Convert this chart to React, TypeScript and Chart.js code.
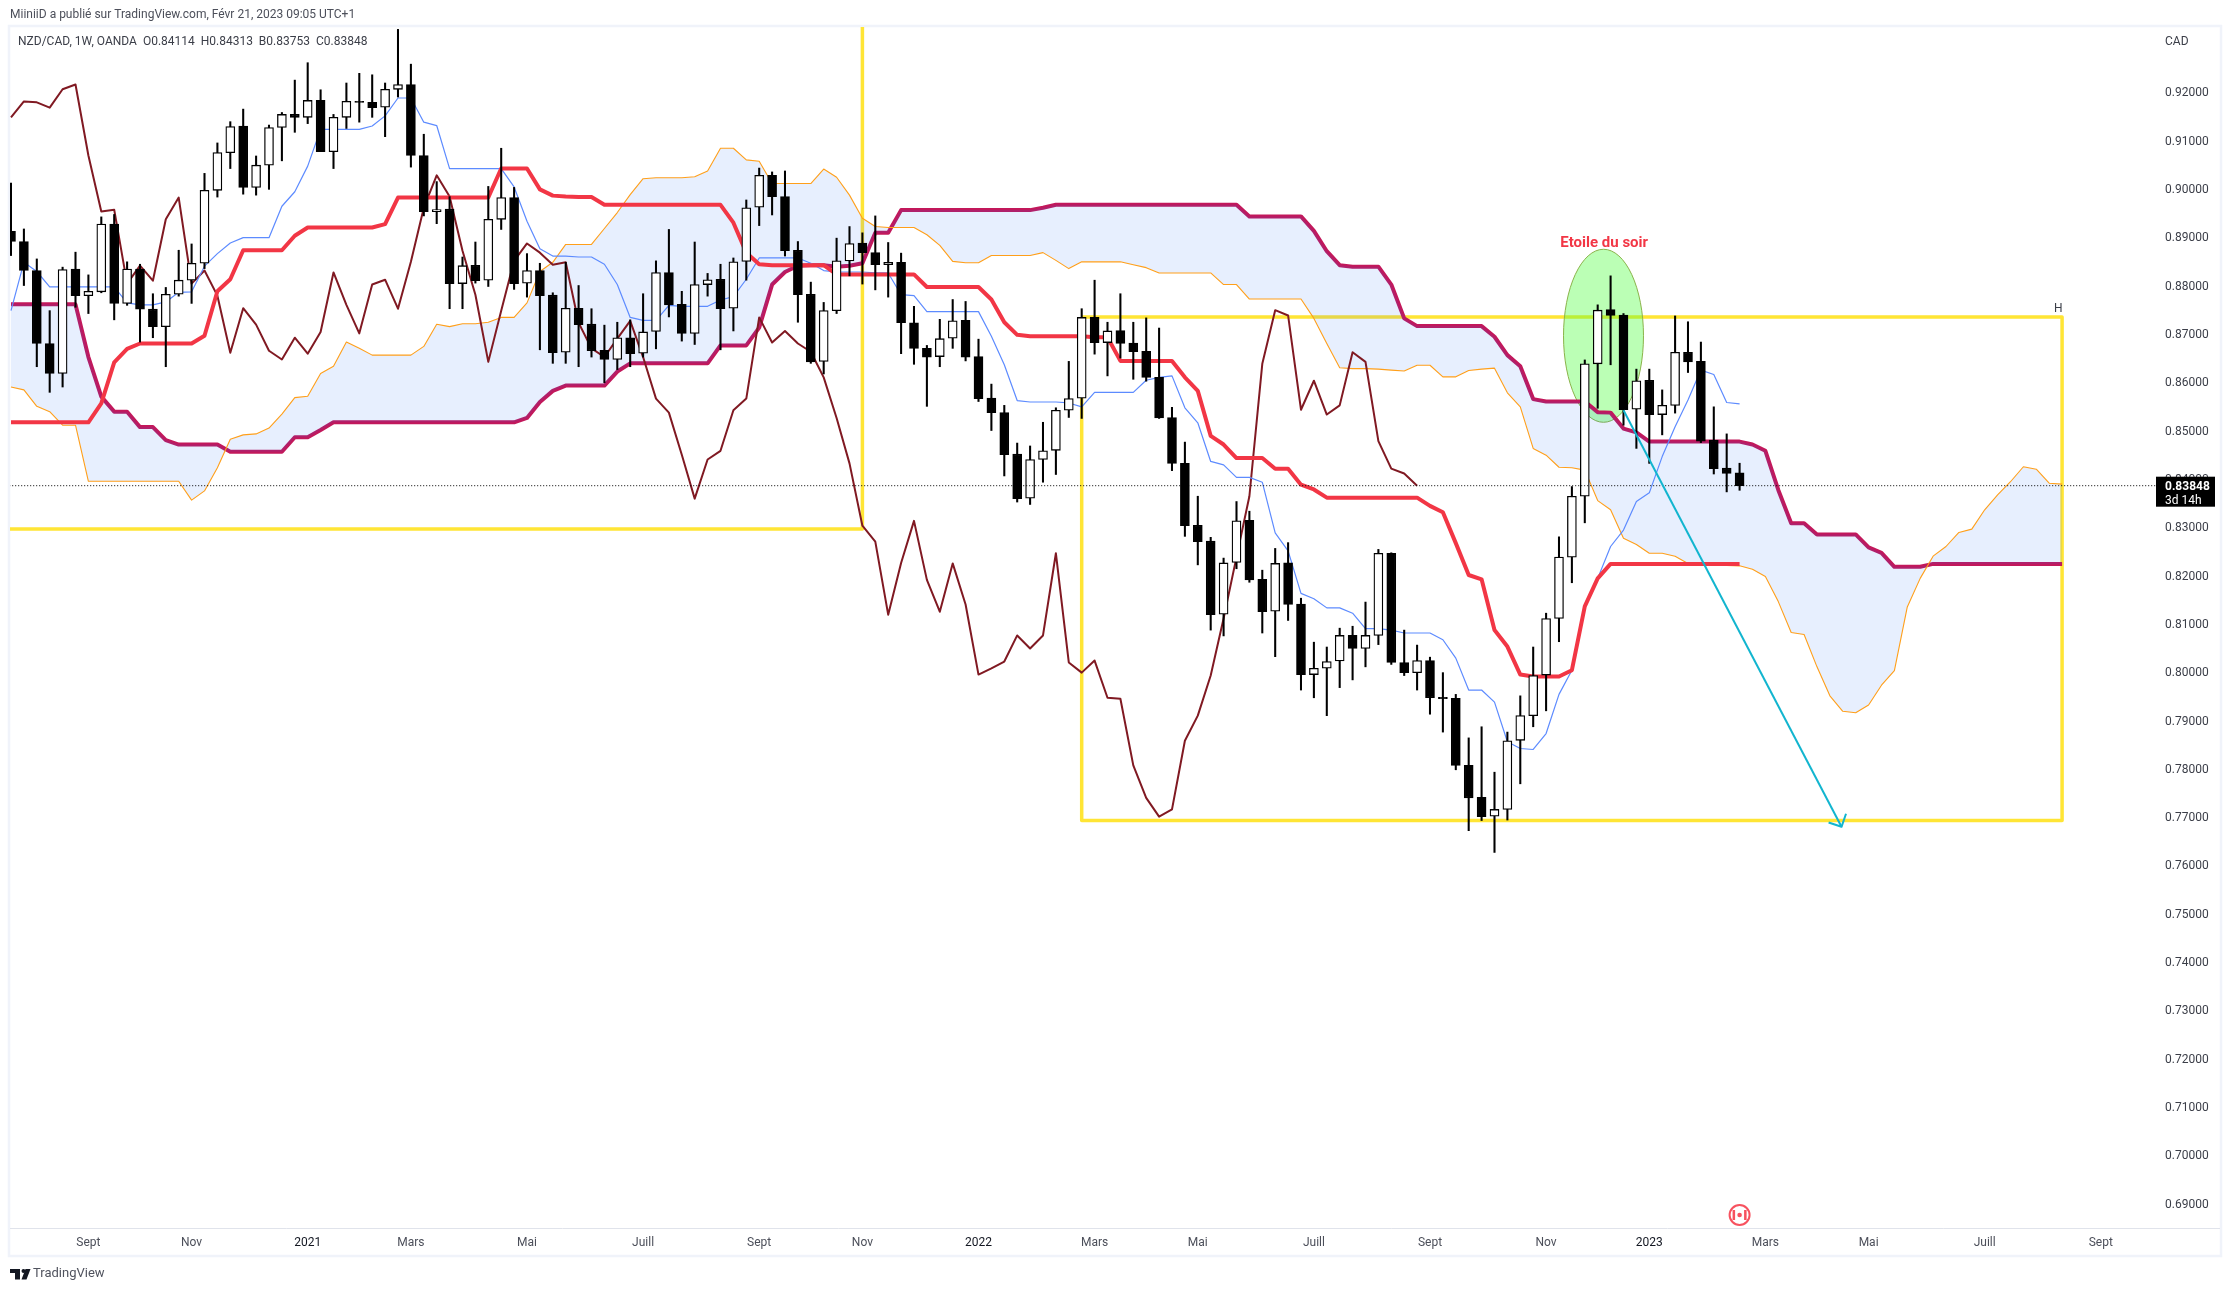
import React, { useEffect, useRef } from "react";
import { Chart, registerables } from "chart.js";

Chart.register(...registerables);

const opens = [.8911,.8890,.8830,.8679,.8617,.8833,.8778,.8786,.8926,.8762,.8833,.8750,.8714,.8781,.8810,.8845,.8996,.9074,.9129,.9002,.9048,.9126,.9153,.9147,.9182,.9076,.9147,.9180,.9178,.9168,.9205,.9215,.9068,.8952,.8957,.8803,.8841,.8810,.8936,.8981,.8804,.8830,.8779,.8661,.8752,.8719,.8665,.8646,.8691,.8659,.8704,.8826,.8760,.8700,.8801,.8812,.8752,.8849,.8961,.9027,.8983,.8872,.8781,.8642,.8747,.8850,.8887,.8867,.8842,.8847,.8722,.8669,.8652,.8690,.8727,.8652,.8566,.8536,.8450,.8359,.8439,.8458,.8541,.8566,.8733,.8681,.8706,.8680,.8663,.8609,.8526,.8431,.8303,.8270,.8119,.8226,.8313,.8191,.8125,.8225,.8140,.7994,.8007,.8022,.8075,.8048,.8075,.8245,.8019,.7998,.8023,.7947,.7945,.7806,.7740,.7701,.7715,.7858,.7909,.7993,.8110,.8237,.8363,.8637,.8749,.8738,.8543,.8603,.8532,.8551,.8661,.8642,.8479,.8421,.84114];
const highs = [.9011,.8916,.8854,.8747,.8837,.8868,.8821,.8941,.8946,.8848,.8843,.8782,.8795,.8872,.8885,.9031,.9094,.9138,.9164,.9067,.9131,.9157,.9224,.9260,.9204,.9153,.9218,.9238,.9235,.9218,.9329,.9257,.9112,.9014,.8983,.8858,.8889,.9004,.9083,.9002,.8865,.8845,.8784,.8847,.8799,.8751,.8717,.8723,.8728,.8782,.8850,.8915,.8787,.8889,.8824,.8843,.8856,.8976,.9042,.9034,.9036,.8890,.8806,.8764,.8897,.8921,.8908,.8943,.8888,.8866,.8756,.8675,.8729,.8770,.8766,.8688,.8595,.8551,.8473,.8467,.8516,.8546,.8642,.8751,.8810,.8723,.8782,.8723,.8732,.8711,.8547,.8475,.8363,.8278,.8235,.8352,.8332,.8210,.8255,.8267,.8152,.8061,.8051,.8090,.8094,.8144,.8253,.8246,.8086,.8055,.8030,.7998,.7953,.7863,.7886,.7792,.7875,.7950,.8051,.8121,.8279,.8383,.8645,.8759,.8819,.8741,.8626,.8626,.8583,.8736,.8724,.8682,.8548,.8492,.84313];
const lows = [.8861,.8799,.8631,.8578,.8589,.8754,.8741,.8784,.8728,.8758,.8682,.8691,.8631,.8777,.8762,.8834,.8982,.9041,.8988,.8986,.8998,.9057,.9116,.9134,.9076,.9041,.9124,.9137,.9147,.9107,.9189,.9044,.8943,.8927,.8751,.8751,.8804,.8797,.8915,.8791,.8775,.8666,.8638,.8638,.8631,.8651,.8598,.8625,.8631,.8651,.8668,.8734,.8684,.8677,.8777,.8666,.8705,.8810,.8923,.8945,.8860,.8723,.8638,.8616,.8741,.8819,.8802,.8790,.8775,.8658,.8636,.8549,.8631,.8669,.8643,.8559,.8499,.8405,.8351,.8346,.8392,.8408,.8526,.8524,.8657,.8612,.8649,.8605,.8601,.8524,.8416,.8280,.8221,.8086,.8074,.8213,.8185,.8080,.8031,.8106,.7962,.7946,.7909,.7967,.7983,.8010,.8056,.8015,.7992,.7962,.7912,.7875,.7797,.7671,.7692,.7626,.7693,.7768,.7886,.7919,.8062,.8184,.8308,.8545,.8635,.8510,.8462,.8431,.8490,.8535,.8619,.8474,.8409,.8372,.83753];
const closes = [.8890,.8830,.8679,.8617,.8832,.8778,.8787,.8926,.8762,.8833,.8750,.8714,.8781,.8810,.8845,.8996,.9074,.9128,.9002,.9048,.9126,.9153,.9147,.9182,.9076,.9147,.9180,.9178,.9167,.9205,.9215,.9068,.8952,.8956,.8803,.8840,.8809,.8936,.8981,.8803,.8830,.8778,.8660,.8752,.8718,.8664,.8646,.8691,.8658,.8703,.8826,.8759,.8700,.8801,.8811,.8751,.8848,.8960,.9027,.8983,.8871,.8780,.8641,.8747,.8850,.8886,.8867,.8842,.8847,.8722,.8669,.8651,.8689,.8726,.8651,.8565,.8536,.8449,.8358,.8439,.8457,.8541,.8565,.8733,.8681,.8705,.8679,.8662,.8609,.8525,.8431,.8302,.8269,.8118,.8225,.8312,.8190,.8124,.8224,.8139,.7994,.8007,.8021,.8075,.8048,.8075,.8245,.8019,.7998,.8023,.7946,.7944,.7806,.7739,.7700,.7715,.7857,.7909,.7992,.8110,.8237,.8363,.8637,.8748,.8737,.8542,.8602,.8532,.8551,.8661,.8641,.8477,.8420,.8410,.83848];
const tenkan = [.8747,.8847,.8828,.8796,.8796,.8796,.8796,.8796,.8796,.8763,.8759,.8759,.8765,.8785,.8786,.8839,.8865,.8887,.8898,.8898,.8898,.8963,.8993,.9046,.9122,.9122,.9122,.9122,.9129,.9150,.9187,.9187,.9137,.9130,.9041,.9041,.9041,.9041,.9041,.9003,.8932,.8875,.8860,.8860,.8858,.8858,.8843,.8801,.8733,.8727,.8727,.8758,.8756,.8756,.8756,.8769,.8776,.8812,.8856,.8856,.8856,.8856,.8845,.8830,.8827,.8827,.8827,.8825,.8825,.8780,.8778,.8745,.8745,.8745,.8745,.8745,.8694,.8635,.8561,.8558,.8558,.8558,.8556,.8548,.8578,.8578,.8578,.8578,.8603,.8609,.8612,.8546,.8515,.8435,.8428,.8402,.8402,.8392,.8287,.8250,.8162,.8151,.8132,.8132,.8121,.8089,.8089,.8086,.8080,.8080,.8080,.8066,.8028,.7962,.7962,.7937,.7855,.7841,.7839,.7872,.7953,.8003,.8133,.8193,.8259,.8293,.8352,.8370,.8445,.8507,.8562,.8624,.8615,.8557,.8554];
const kijun = [.8516,.8516,.8516,.8516,.8516,.8516,.8516,.8555,.8640,.8668,.8679,.8679,.8679,.8679,.8679,.8695,.8787,.8812,.8872,.8872,.8872,.8872,.8902,.8919,.8919,.8919,.8919,.8919,.8919,.8926,.8981,.8981,.8981,.8981,.8981,.8981,.8981,.8981,.9041,.9041,.9041,.8998,.8985,.8983,.8982,.8982,.8966,.8966,.8966,.8966,.8966,.8966,.8966,.8966,.8966,.8966,.8929,.8867,.8843,.8841,.8841,.8841,.8841,.8841,.8822,.8822,.8822,.8822,.8822,.8822,.8822,.8796,.8796,.8796,.8796,.8796,.8770,.8723,.8697,.8694,.8694,.8694,.8694,.8694,.8692,.8692,.8643,.8643,.8643,.8643,.8643,.8609,.8581,.8488,.8470,.8442,.8442,.8442,.8420,.8420,.8387,.8377,.8360,.8360,.8360,.8360,.8360,.8360,.8360,.8360,.8343,.8330,.8266,.8200,.8191,.8086,.8052,.7994,.7990,.7990,.7990,.8003,.8135,.8193,.8223,.8223,.8223,.8223,.8223,.8223,.8223,.8223,.8223,.8223,.8223];
const chikou = [.9147,.9180,.9178,.9167,.9205,.9215,.9068,.8952,.8956,.8803,.8840,.8809,.8936,.8981,.8803,.8830,.8778,.8660,.8752,.8718,.8664,.8646,.8691,.8658,.8703,.8826,.8759,.8700,.8801,.8811,.8751,.8848,.8960,.9027,.8983,.8871,.8780,.8641,.8747,.8850,.8886,.8867,.8842,.8847,.8722,.8669,.8651,.8689,.8726,.8651,.8565,.8536,.8449,.8358,.8439,.8457,.8541,.8565,.8733,.8681,.8705,.8679,.8662,.8609,.8525,.8431,.8302,.8269,.8118,.8225,.8312,.8190,.8124,.8224,.8139,.7994,.8007,.8021,.8075,.8048,.8075,.8245,.8019,.7998,.8023,.7946,.7944,.7806,.7739,.7700,.7715,.7857,.7909,.7992,.8110,.8237,.8363,.8637,.8748,.8737,.8542,.8602,.8532,.8551,.8661,.8641,.8477,.8420,.8410,.83848];
const senkouA = [.8589,.8583,.8549,.8538,.8510,.8510,.8394,.8394,.8394,.8394,.8394,.8394,.8394,.8394,.8355,.8374,.8422,.8481,.8490,.8492,.8504,.8533,.8567,.8570,.8617,.8632,.8682,.8669,.8655,.8655,.8655,.8655,.8673,.8719,.8714,.8720,.8720,.8723,.8733,.8733,.8763,.8828,.8847,.8884,.8884,.8884,.8917,.8950,.8987,.9020,.9022,.9022,.9022,.9024,.9036,.9083,.9083,.9059,.9056,.9010,.9010,.9010,.9010,.9040,.9023,.8986,.8938,.8921,.8919,.8919,.8919,.8904,.8882,.8849,.8846,.8846,.8861,.8861,.8861,.8861,.8867,.8851,.8834,.8848,.8848,.8848,.8848,.8842,.8836,.8825,.8825,.8825,.8825,.8825,.8801,.8801,.8771,.8771,.8771,.8771,.8771,.8731,.8679,.8629,.8627,.8627,.8626,.8624,.8622,.8634,.8634,.8610,.8610,.8623,.8626,.8628,.8577,.8548,.8462,.8448,.8423,.8422,.8417,.8354,.8335,.8276,.8263,.8245,.8245,.8239,.8224,.8221,.8221,.8220,.8219,.8212,.8197,.8145,.8081,.8077,.8010,.7950,.7918,.7915,.7931,.7972,.8002,.8134,.8193,.8239,.8259,.8288,.8295,.8335,.8366,.8393,.8424,.8419,.8390,.8388];
const senkouB = [.8760,.8760,.8760,.8760,.8760,.8760,.8651,.8569,.8538,.8538,.8506,.8506,.8479,.8470,.8470,.8470,.8470,.8455,.8455,.8455,.8455,.8455,.8485,.8485,.8500,.8516,.8516,.8516,.8516,.8516,.8516,.8516,.8516,.8516,.8516,.8516,.8516,.8516,.8516,.8516,.8525,.8558,.8581,.8592,.8592,.8592,.8592,.8621,.8638,.8638,.8638,.8638,.8638,.8638,.8638,.8675,.8675,.8675,.8712,.8801,.8827,.8840,.8841,.8841,.8838,.8840,.8845,.8908,.8908,.8955,.8955,.8955,.8955,.8955,.8955,.8955,.8955,.8955,.8955,.8955,.8960,.8966,.8966,.8966,.8966,.8966,.8966,.8966,.8966,.8966,.8966,.8966,.8966,.8966,.8966,.8966,.8942,.8942,.8942,.8942,.8942,.8912,.8870,.8841,.8838,.8838,.8838,.8801,.8731,.8715,.8715,.8715,.8715,.8715,.8715,.8693,.8655,.8632,.8564,.8559,.8559,.8559,.8559,.8537,.8536,.8503,.8495,.8476,.8476,.8476,.8476,.8476,.8476,.8476,.8476,.8470,.8457,.8376,.8307,.8307,.8284,.8284,.8284,.8284,.8257,.8246,.8217,.8217,.8217,.8223,.8223,.8223,.8223,.8223,.8223,.8223,.8223,.8223,.8223,.8223];

const priceTicks = [.69,.70,.71,.72,.73,.74,.75,.76,.77,.78,.79,.80,.81,.82,.83,.84,.85,.86,.87,.88,.89,.90,.91,.92];
const timeTickIndex = [6,14,23,31,40,49,58,66,75,84,92,101,110,119,127,136,144,153,162];
const timeTickLabels = ["Sept","Nov","2021","Mars","Mai","Juill","Sept","Nov","2022","Mars","Mai","Juill","Sept","Nov","2023","Mars","Mai","Juill","Sept"];
const yearLabels = ["2021","2022","2023"];

const lastPrice = 0.83848;
const leftBoxX = [-2,66,66];
const leftBoxY = [.8295,.8295,.95];
const rightBoxX = [83,159,159,83,83];
const rightBoxY = [.8734,.8734,.7692,.7692,.8734];
const trendX = [125,141.9];
const trendY = [.8541,.7679];
const arrowX = [140.9,141.9,142.25];
const arrowY = [.7688,.7679,.7706];
const noteCenter = { i: 123.45, p: 0.8695, ri: 3.1, rp: 0.0179 };
const noteText = "Etoile du soir";
const noteTextAt = { i: 123.5, p: 0.8887 };
const boxLetterAt = { i: 158.7, p: 0.8750 };
const eventIndex = 134;

const publisher = "MiiniiD a publié sur TradingView.com, Févr 21, 2023 09:05 UTC+1";
const legendLine = "NZD/CAD, 1W, OANDA  O0.84114  H0.84313  B0.83753  C0.83848";

const FONT = "Roboto, 'Open Sans', sans-serif";

const pts = (ys: number[]) => ys.map((y, i) => ({ x: i, y }));
const ptsXY = (xs: number[], ys: number[]) => xs.map((x, i) => ({ x, y: ys[i] }));

const line = (label: string, data: any[], color: string, width: number, order: number, extra: any = {}) => ({
  type: "line" as const,
  label,
  data,
  borderColor: color,
  borderWidth: width,
  pointRadius: 0,
  tension: 0,
  fill: false,
  order,
  borderJoinStyle: "round",
  ...extra,
});

const chrome = {
  id: "chrome",
  beforeDraw(chart: any) {
    const c = chart.ctx;
    c.save();
    c.fillStyle = "#ffffff";
    c.fillRect(0, 0, chart.width, chart.height);
    c.strokeStyle = "#f0f3fa";
    c.lineWidth = 2.5;
    c.strokeRect(9, 26, 2212, 1230);
    c.strokeStyle = "#e0e3eb";
    c.lineWidth = 1;
    c.beginPath();
    c.moveTo(10, 1228.5);
    c.lineTo(2220, 1228.5);
    c.stroke();
    c.textBaseline = "middle";
    c.textAlign = "left";
    c.fillStyle = "#4c4f5a";
    c.font = `12px ${FONT}`;
    c.fillText(publisher, 10, 15);
    c.fillStyle = "#3b3e48";
    c.fillText(legendLine, 18, 41.5);
    c.restore();
  },
  afterDatasetDraw(chart: any, args: any) {
    if (args.meta.label !== "rightBox") return;
    const c = chart.ctx;
    const x = chart.scales.x;
    const y = chart.scales.y;
    const cx = x.getPixelForValue(noteCenter.i);
    const cy = y.getPixelForValue(noteCenter.p);
    const rx = Math.abs(x.getPixelForValue(noteCenter.i + noteCenter.ri) - cx);
    const ry = Math.abs(y.getPixelForValue(noteCenter.p + noteCenter.rp) - cy);
    c.save();
    c.beginPath();
    c.ellipse(cx, cy, rx, ry, 0, 0, Math.PI * 2);
    c.fillStyle = "rgba(76,255,60,0.38)";
    c.fill();
    c.strokeStyle = "#8bb34a";
    c.lineWidth = 1;
    c.stroke();
    c.restore();
  },
  afterDraw(chart: any) {
    const c = chart.ctx;
    const x = chart.scales.x;
    const y = chart.scales.y;
    c.save();
    c.textBaseline = "middle";
    c.textAlign = "center";
    c.fillStyle = "#f23645";
    c.font = `bold 15px ${FONT}`;
    c.fillText(noteText, x.getPixelForValue(noteTextAt.i), y.getPixelForValue(noteTextAt.p));
    c.fillStyle = "#3b3e48";
    c.font = `12px ${FONT}`;
    c.fillText("H", x.getPixelForValue(boxLetterAt.i), y.getPixelForValue(boxLetterAt.p));

    c.textAlign = "left";
    c.fillText("CAD", 2165, 42);

    const ly = y.getPixelForValue(lastPrice);
    c.fillStyle = "#000000";
    c.fillRect(2156, ly - 9, 59, 30);
    c.fillStyle = "#ffffff";
    c.font = `bold 12px ${FONT}`;
    c.fillText("0.83848", 2165, ly + 1);
    c.font = `12px ${FONT}`;
    c.fillText("3d 14h", 2165, ly + 15);

    // economic event marker on the time line
    const ex = x.getPixelForValue(eventIndex);
    const ey = 1215;
    c.beginPath();
    c.arc(ex, ey, 10, 0, Math.PI * 2);
    c.fillStyle = "#ffffff";
    c.fill();
    c.strokeStyle = "#f7525f";
    c.lineWidth = 2;
    c.stroke();
    c.fillStyle = "#f7525f";
    c.fillRect(ex - 7, ey - 5, 2.5, 10);
    c.fillRect(ex + 4.5, ey - 5, 2.5, 10);
    c.beginPath();
    c.arc(ex, ey, 2.3, 0, Math.PI * 2);
    c.fill();

    // publisher logo and wordmark
    c.fillStyle = "#131722";
    c.fillRect(10, 1269, 10, 4);
    c.fillRect(15, 1269, 5, 10.5);
    c.beginPath();
    c.arc(23.5, 1271, 2, 0, Math.PI * 2);
    c.fill();
    c.beginPath();
    c.moveTo(30.5, 1269);
    c.lineTo(26.5, 1279.5);
    c.lineTo(21.5, 1279.5);
    c.lineTo(25.5, 1269);
    c.closePath();
    c.fill();
    c.fillStyle = "#50535e";
    c.font = `13px ${FONT}`;
    c.fillText("TradingView", 33, 1274);
    c.restore();
  },
};

export default function App() {
  const ref = useRef<HTMLCanvasElement | null>(null);
  useEffect(() => {
    document.body.style.margin = "0";
    Chart.defaults.font.family = FONT;
    const candles = opens.map((o, i) => ({ x: i, y: [o, closes[i]] }));
    const wicks = lows.map((l, i) => ({ x: i, y: [l, highs[i]] }));
    const bodyFill = opens.map((o, i) => (closes[i] >= o ? "#ffffff" : "#000000"));
    const cloud = "rgba(33,100,243,0.105)";
    const datasets: any[] = [
      line("leftBox", ptsXY(leftBoxX, leftBoxY), "#ffe535", 3.5, 100),
      line("rightBox", ptsXY(rightBoxX, rightBoxY), "#ffe535", 3.5, 99),
      line("senkouB", pts(senkouB), "#c2185b", 4, 90),
      line("senkouA", pts(senkouA), "#ff9f1a", 1.1, 89, { fill: { target: 2, above: cloud, below: cloud } }),
      line("chikou", pts(chikou), "#801922", 2, 85),
      line("tenkan", pts(tenkan), "#5d8bff", 1.2, 80),
      line("kijun", pts(kijun), "#f23645", 4, 78),
      {
        type: "bar",
        label: "wicks",
        data: wicks,
        backgroundColor: "#000000",
        borderWidth: 0,
        barThickness: 1.4,
        grouped: false,
        order: 20,
      },
      {
        type: "bar",
        label: "bodies",
        data: candles,
        backgroundColor: bodyFill,
        borderColor: "#000000",
        borderWidth: 1.3,
        borderSkipped: false,
        barThickness: 9,
        grouped: false,
        order: 10,
      },
      line("last", ptsXY([-2, 170], [lastPrice, lastPrice]), "#000000", 1, 5, { borderDash: [1, 2] }),
      line("trend", ptsXY(trendX, trendY), "#12b5cf", 2, 4),
      line("arrow", ptsXY(arrowX, arrowY), "#12b5cf", 2, 3),
    ];
    const chart = new Chart(ref.current as HTMLCanvasElement, {
      type: "bar",
      data: { datasets },
      plugins: [chrome],
      options: {
        responsive: false,
        animation: false,
        devicePixelRatio: 1,
        parsing: undefined as any,
        layout: { padding: { left: 10, top: 27, right: 8, bottom: 35 } },
        plugins: { legend: { display: false }, tooltip: { enabled: false }, title: { display: false } },
        scales: {
          x: {
            type: "linear",
            offset: false,
            min: -0.0775,
            max: 166.28,
            grid: { display: false, drawTicks: false },
            border: { display: false },
            afterBuildTicks: (s: any) => {
              s.ticks = timeTickIndex.map((value) => ({ value }));
            },
            afterFit: (s: any) => {
              s.height = 28;
            },
            ticks: {
              autoSkip: false,
              maxRotation: 0,
              padding: 8,
              font: { size: 12 },
              color: (ctx: any) =>
                yearLabels.includes(timeTickLabels[timeTickIndex.indexOf(ctx.tick?.value)]) ? "#131722" : "#4c4f5a",
              callback: (v: any) => timeTickLabels[timeTickIndex.indexOf(v)] ?? "",
            },
          },
          y: {
            type: "linear",
            position: "right",
            min: 0.68489,
            max: 0.93339,
            grid: { display: false, drawTicks: false },
            border: { display: false },
            afterBuildTicks: (s: any) => {
              s.ticks = priceTicks.map((value) => ({ value }));
            },
            afterFit: (s: any) => {
              s.width = 65;
            },
            ticks: {
              autoSkip: false,
              padding: 9,
              labelOffset: 1.5,
              font: { size: 12 },
              color: "#3b3e48",
              callback: (v: any) => Number(v).toFixed(5),
            },
          },
        },
      } as any,
    });
    return () => chart.destroy();
  }, []);
  return (
    <div style={{ position: "absolute", left: 0, top: 0, width: 2229, height: 1291 }}>
      <canvas ref={ref} width={2229} height={1291} style={{ display: "block", width: 2229, height: 1291 }} />
    </div>
  );
}
